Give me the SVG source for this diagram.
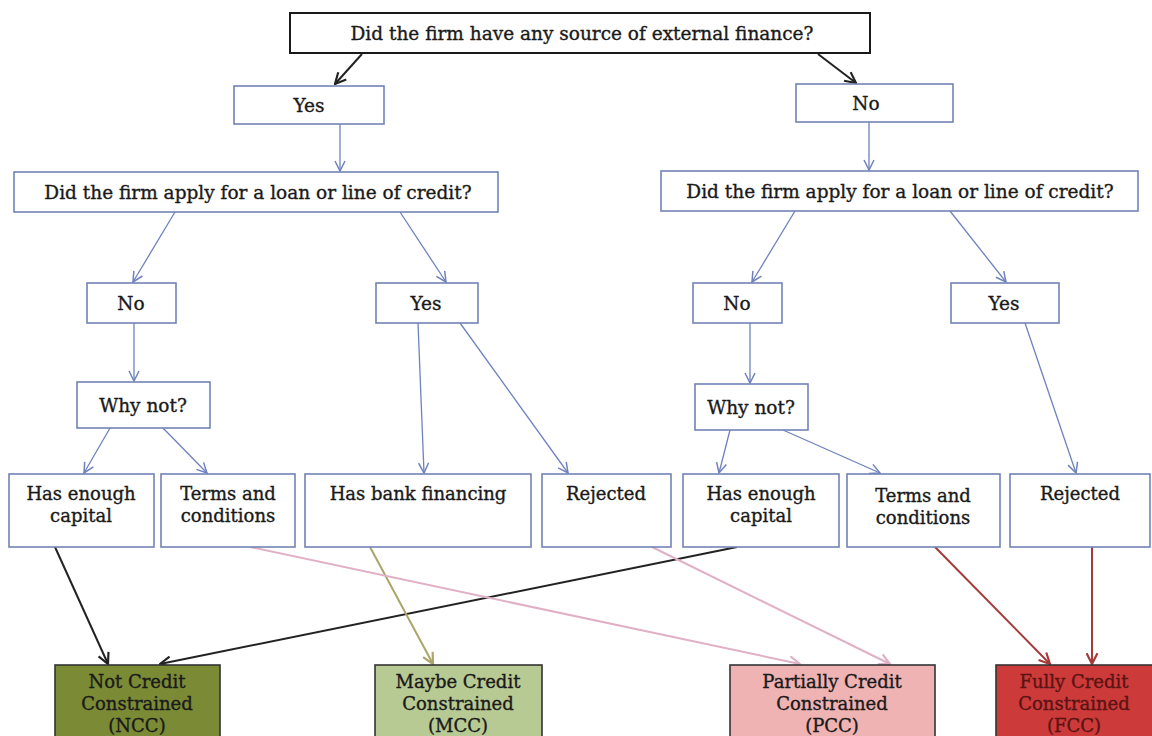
<svg xmlns="http://www.w3.org/2000/svg" width="1152" height="736" viewBox="0 0 1152 736">
<defs>
<marker id="aB" viewBox="0 0 12 12" refX="11" refY="6" markerWidth="12" markerHeight="12" markerUnits="userSpaceOnUse" orient="auto"><path d="M1,1 L11,6 L1,11" fill="none" stroke="#6f82bd" stroke-width="1.5"/></marker>
<marker id="aK" viewBox="0 0 12 12" refX="11" refY="6" markerWidth="13" markerHeight="13" markerUnits="userSpaceOnUse" orient="auto"><path d="M1,1 L11,6 L1,11" fill="none" stroke="#222" stroke-width="2"/></marker>
<marker id="aO" viewBox="0 0 12 12" refX="11" refY="6" markerWidth="13" markerHeight="13" markerUnits="userSpaceOnUse" orient="auto"><path d="M1,1 L11,6 L1,11" fill="none" stroke="#aaa66a" stroke-width="2"/></marker>
<marker id="aP" viewBox="0 0 12 12" refX="11" refY="6" markerWidth="13" markerHeight="13" markerUnits="userSpaceOnUse" orient="auto"><path d="M1,1 L11,6 L1,11" fill="none" stroke="#e0b0c6" stroke-width="2"/></marker>
<marker id="aR" viewBox="0 0 12 12" refX="11" refY="6" markerWidth="13" markerHeight="13" markerUnits="userSpaceOnUse" orient="auto"><path d="M1,1 L11,6 L1,11" fill="none" stroke="#a53a3a" stroke-width="2"/></marker>
</defs>
<style>
text{font-family:"DejaVu Serif","Liberation Serif",serif;font-size:18.5px;fill:#1a1a1a;stroke:#1a1a1a;stroke-width:0.35;text-anchor:middle}
.sm{font-size:18px}
.box{fill:#fff;stroke:#7283b6;stroke-width:1.6}
.top{fill:#fff;stroke:#1a1a1a;stroke-width:2}
.c{fill:none;stroke:#6f82bd;stroke-width:1.3;marker-end:url(#aB)}
.k{fill:none;stroke:#222;stroke-width:2;marker-end:url(#aK)}
.o{fill:none;stroke:#aaa66a;stroke-width:2;marker-end:url(#aO)}
.p{fill:none;stroke:#e0b0c6;stroke-width:2;marker-end:url(#aP)}
.r{fill:none;stroke:#a53a3a;stroke-width:2;marker-end:url(#aR)}
.res{stroke:#333;stroke-width:1.6}
.fcc{fill:#5a1414;stroke:#5a1414}
</style>
<rect width="1152" height="736" fill="#fff"/>
<g id="connectors">
<line class="k" x1="362" y1="54" x2="335" y2="84"/>
<line class="k" x1="818" y1="54" x2="856" y2="83"/>
<line class="c" x1="340" y1="124" x2="340" y2="171"/>
<line class="c" x1="869" y1="122" x2="869" y2="170"/>
<line class="c" x1="175" y1="212" x2="133" y2="282"/>
<line class="c" x1="400" y1="212" x2="446" y2="282"/>
<line class="c" x1="795" y1="211" x2="752" y2="282"/>
<line class="c" x1="950" y1="211" x2="1006" y2="282"/>
<line class="c" x1="134" y1="323" x2="134" y2="381"/>
<line class="c" x1="750" y1="323" x2="750" y2="383"/>
<line class="c" x1="418" y1="323" x2="424" y2="473"/>
<line class="c" x1="460" y1="323" x2="568" y2="473"/>
<line class="c" x1="1025" y1="323" x2="1076" y2="473"/>
<line class="c" x1="110" y1="428" x2="84" y2="473"/>
<line class="c" x1="163" y1="428" x2="207" y2="473"/>
<line class="c" x1="730" y1="430" x2="719" y2="473"/>
<line class="c" x1="783" y1="430" x2="880" y2="473"/>
<line class="k" x1="55" y1="547" x2="108" y2="664"/>
<line class="k" x1="737" y1="547" x2="160" y2="664"/>
<line class="o" x1="370" y1="547" x2="433" y2="664"/>
<line class="p" x1="250" y1="547" x2="800" y2="664"/>
<line class="p" x1="652" y1="547" x2="890" y2="664"/>
<line class="r" x1="935" y1="547" x2="1050" y2="664"/>
<line class="r" x1="1092" y1="547" x2="1092" y2="664"/>
</g>
<g id="n-top"><rect class="top" x="290" y="13" width="580" height="40"/><text x="582" y="40">Did the firm have any source of external finance?</text></g>
<g id="n-yes1"><rect class="box" x="234" y="86" width="150" height="38"/><text x="309" y="112">Yes</text></g>
<g id="n-no1"><rect class="box" x="796" y="84" width="157" height="38"/><text x="866" y="110">No</text></g>
<g id="n-q1"><rect class="box" x="14" y="172" width="484" height="40"/><text x="258" y="199">Did the firm apply for a loan or line of credit?</text></g>
<g id="n-q2"><rect class="box" x="661" y="171" width="477" height="40"/><text x="900" y="198">Did the firm apply for a loan or line of credit?</text></g>
<g id="n-no2"><rect class="box" x="87" y="283" width="89" height="40"/><text x="131" y="310">No</text></g>
<g id="n-yes2"><rect class="box" x="376" y="283" width="102" height="40"/><text x="426" y="310">Yes</text></g>
<g id="n-no3"><rect class="box" x="693" y="283" width="89" height="40"/><text x="737" y="310">No</text></g>
<g id="n-yes3"><rect class="box" x="951" y="283" width="108" height="40"/><text x="1004" y="310">Yes</text></g>
<g id="n-why1"><rect class="box" x="77" y="382" width="133" height="46"/><text x="143" y="412">Why not?</text></g>
<g id="n-why2"><rect class="box" x="695" y="384" width="113" height="46"/><text x="751" y="414">Why not?</text></g>
<g id="n-cap1"><rect class="box" x="9" y="474" width="145" height="73"/><text class="sm" x="81" y="500">Has enough</text><text class="sm" x="81" y="522">capital</text></g>
<g id="n-terms1"><rect class="box" x="161" y="474" width="134" height="73"/><text class="sm" x="228" y="500">Terms and</text><text class="sm" x="228" y="522">conditions</text></g>
<g id="n-bank"><rect class="box" x="305" y="474" width="226" height="73"/><text class="sm" x="418" y="500">Has bank financing</text></g>
<g id="n-rej1"><rect class="box" x="542" y="474" width="129" height="73"/><text class="sm" x="606" y="500">Rejected</text></g>
<g id="n-cap2"><rect class="box" x="683" y="474" width="156" height="73"/><text class="sm" x="761" y="500">Has enough</text><text class="sm" x="761" y="522">capital</text></g>
<g id="n-terms2"><rect class="box" x="847" y="474" width="153" height="73"/><text class="sm" x="923" y="502">Terms and</text><text class="sm" x="923" y="524">conditions</text></g>
<g id="n-rej2"><rect class="box" x="1010" y="474" width="140" height="73"/><text class="sm" x="1080" y="500">Rejected</text></g>
<g id="n-ncc"><rect class="res" x="55" y="665" width="165" height="90" fill="#7a8a35"/><text class="sm" x="137" y="688">Not Credit</text><text class="sm" x="137" y="710">Constrained</text><text class="sm" x="137" y="732">(NCC)</text></g>
<g id="n-mcc"><rect class="res" x="375" y="665" width="167" height="90" fill="#b8ca93"/><text class="sm" x="458" y="688">Maybe Credit</text><text class="sm" x="458" y="710">Constrained</text><text class="sm" x="458" y="732">(MCC)</text></g>
<g id="n-pcc"><rect class="res" x="730" y="665" width="205" height="90" fill="#f0b3b3"/><text class="sm" x="832" y="688">Partially Credit</text><text class="sm" x="832" y="710">Constrained</text><text class="sm" x="832" y="732">(PCC)</text></g>
<g id="n-fcc"><rect class="res" x="996" y="665" width="170" height="90" fill="#cd3a3a"/><text class="sm fcc" x="1074" y="688">Fully Credit</text><text class="sm fcc" x="1074" y="710">Constrained</text><text class="sm fcc" x="1074" y="732">(FCC)</text></g>
</svg>
